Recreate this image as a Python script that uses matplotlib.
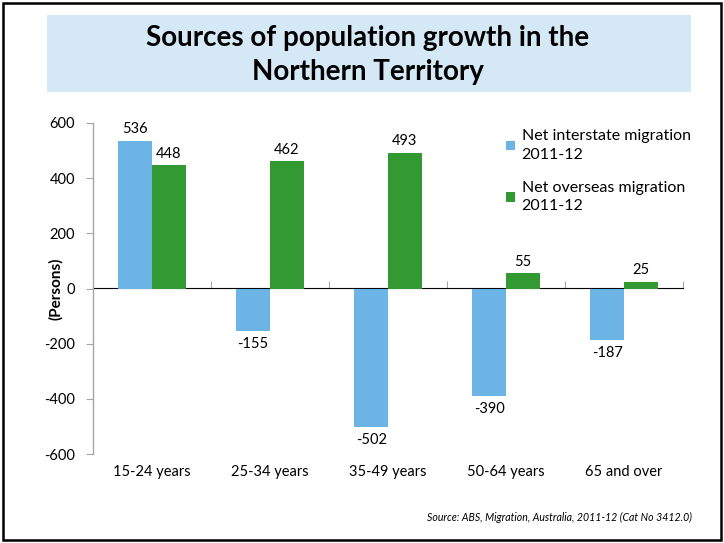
import matplotlib
matplotlib.use("Agg")
import matplotlib.pyplot as plt
from matplotlib.patches import Rectangle
import numpy as np

categories = ["15-24 years", "25-34 years", "35-49 years", "50-64 years", "65 and over"]
interstate = [536, -155, -502, -390, -187]
overseas = [448, 462, 493, 55, 25]
series_names = ["Net interstate migration\n2011-12", "Net overseas migration\n2011-12"]
yticks = [-600, -400, -200, 0, 200, 400, 600]

BLUE = "#6CB4E6"
GREEN = "#339933"
GRAY = "#A6A6A6"

plt.rcParams['font.family'] = ['Lato', 'DejaVu Sans']

W, H = 724, 543
fig = plt.figure(figsize=(W / 100, H / 100), dpi=100)

def fx(px):
    return px / W

def fy(py):
    return 1 - py / H

# border
fig.patches.append(Rectangle((fx(3), fy(540)), fx(718), 537 / H, transform=fig.transFigure,
                             fill=False, edgecolor="black", linewidth=1.8))
# title box
fig.patches.append(Rectangle((fx(47), fy(92)), fx(644), 77 / H, transform=fig.transFigure,
                             facecolor="#D5E8F6", edgecolor="none"))
fig.text(fx(368), fy(55), "Sources of population growth in the\nNorthern Territory",
         ha="center", va="center", fontsize=20, fontweight="bold", linespacing=1.35)

ax = fig.add_axes([fx(93), fy(454), fx(683 - 93), (454 - 123) / H])
x = np.arange(len(categories))
bw = 0.285
b1 = ax.bar(x - bw / 2, interstate, bw, color=BLUE, label=series_names[0])
b2 = ax.bar(x + bw / 2, overseas, bw, color=GREEN, label=series_names[1])

for bars, vals in ((b1, interstate), (b2, overseas)):
    for r, v in zip(bars, vals):
        cx = r.get_x() + r.get_width() / 2
        if v >= 0:
            ax.annotate(str(v), (cx, v), xytext=(0, 3), textcoords="offset points",
                        ha="center", va="bottom", fontsize=10.5)
        else:
            ax.annotate(str(v), (cx, v), xytext=(0, -4), textcoords="offset points",
                        ha="center", va="top", fontsize=10.5)

ax.set_xlim(-0.5, len(categories) - 0.5)
ax.set_ylim(-600, 600)
ax.set_yticks(yticks)
ax.set_yticklabels([str(t) for t in yticks], fontsize=10.5)
ax.tick_params(axis="y", direction="out", length=5, color=GRAY, pad=8)
ax.set_xticks(x)
ax.set_xticklabels(categories, fontsize=10.5)
ax.tick_params(axis="x", length=0, pad=8)

for s in ("top", "right", "bottom"):
    ax.spines[s].set_visible(False)
ax.spines["left"].set_color(GRAY)
ax.spines["left"].set_linewidth(1.0)

sec = ax.secondary_xaxis(0.5)
sec.set_xticks(np.arange(len(categories)) + 0.5)
sec.set_xticklabels([])
sec.tick_params(direction="out", length=5, color=GRAY)
sec.spines["bottom"].set_color(GRAY)
sec.spines["bottom"].set_linewidth(1.2)

ax.set_ylabel("(Persons)", fontsize=11, fontweight="bold", labelpad=4)
ax.yaxis.set_label_coords(-0.05, 0.5)

leg = ax.legend(loc="upper left", bbox_to_anchor=((492 - 93) / 590, 1 + 8 / 331),
                frameon=False, fontsize=11.5, handlelength=0.55, handleheight=0.55,
                handletextpad=0.4, labelspacing=1.2)
for t in leg.get_texts():
    t.set_linespacing(1.4)

fig.text(fx(692), fy(517), "Source: ABS, Migration, Australia, 2011-12 (Cat No 3412.0)",
         ha="right", va="center", fontsize=7.6, fontstyle="italic")

fig.savefig("out.png", dpi=100)
